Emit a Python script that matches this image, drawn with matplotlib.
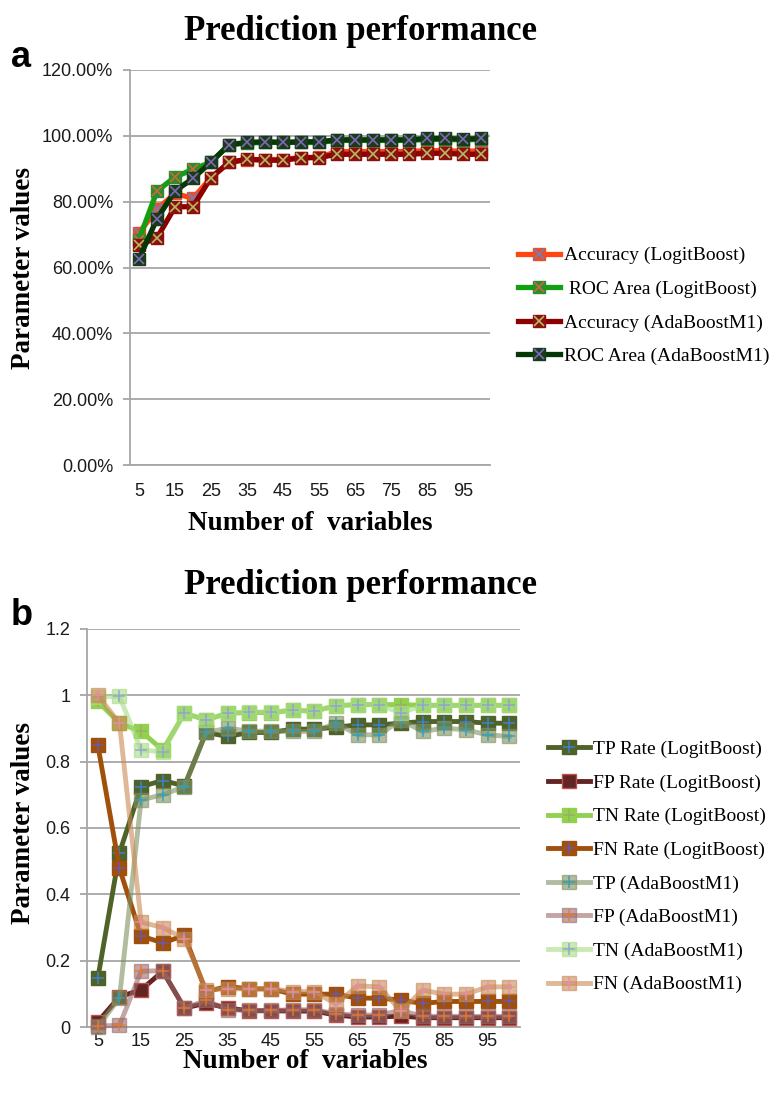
import matplotlib
matplotlib.use('Agg')
import matplotlib.pyplot as plt
from matplotlib.legend_handler import HandlerTuple
from matplotlib.ticker import MultipleLocator, FuncFormatter
from matplotlib.font_manager import FontProperties

plt.rcParams['font.family'] = ['Liberation Sans', 'DejaVu Sans']

# ---------------- data ----------------
variables = list(range(5, 101, 5))

# panel a (percent)
acc_lb = [70.5, 77.7, 82.5, 81.0, 87.3, 91.9, 92.8, 92.8, 92.8, 93.4, 93.5, 95.2, 95.2, 95.2, 95.2, 95.2, 95.5, 95.5, 95.3, 95.4]
roc_lb = [68.5, 83.2, 87.5, 89.8, 92.0, 97.3, 97.8, 98.0, 98.0, 98.0, 98.0, 98.6, 98.6, 98.6, 98.6, 98.6, 98.9, 98.9, 98.8, 98.9]
acc_ada = [66.8, 69.0, 78.4, 78.5, 87.3, 91.9, 92.9, 92.6, 92.6, 93.3, 93.4, 94.4, 94.4, 94.4, 94.4, 94.4, 94.7, 94.7, 94.4, 94.4]
roc_ada = [62.6, 74.8, 83.2, 87.1, 92.0, 97.3, 98.0, 98.2, 98.0, 98.2, 98.2, 98.8, 98.8, 98.8, 98.8, 98.8, 99.2, 99.2, 99.0, 99.2]

# panel b (rates)
tp_lb = [0.147, 0.525, 0.725, 0.743, 0.727, 0.888, 0.876, 0.888, 0.888, 0.898, 0.898, 0.904, 0.911, 0.911, 0.916, 0.921, 0.921, 0.921, 0.916, 0.916]
fp_lb = [0.016, 0.091, 0.112, 0.168, 0.057, 0.072, 0.057, 0.049, 0.049, 0.048, 0.048, 0.036, 0.030, 0.030, 0.033, 0.028, 0.028, 0.028, 0.028, 0.028]
tn_lb = [0.982, 0.916, 0.891, 0.835, 0.946, 0.926, 0.946, 0.948, 0.948, 0.955, 0.952, 0.969, 0.972, 0.972, 0.972, 0.970, 0.970, 0.970, 0.970, 0.970]
fn_lb = [0.850, 0.478, 0.274, 0.254, 0.276, 0.107, 0.122, 0.115, 0.115, 0.099, 0.099, 0.099, 0.087, 0.087, 0.081, 0.071, 0.077, 0.077, 0.077, 0.077]
tp_ada = [0.000, 0.088, 0.685, 0.700, 0.725, 0.888, 0.901, 0.892, 0.892, 0.891, 0.891, 0.916, 0.881, 0.881, 0.926, 0.891, 0.901, 0.896, 0.881, 0.876]
fp_ada = [0.003, 0.005, 0.168, 0.170, 0.057, 0.080, 0.052, 0.050, 0.050, 0.052, 0.052, 0.040, 0.036, 0.036, 0.050, 0.032, 0.032, 0.032, 0.032, 0.032]
tn_ada = [0.995, 0.997, 0.835, 0.830, 0.946, 0.926, 0.946, 0.950, 0.950, 0.955, 0.952, 0.969, 0.972, 0.972, 0.946, 0.970, 0.970, 0.970, 0.970, 0.970]
fn_ada = [1.000, 0.916, 0.316, 0.300, 0.266, 0.112, 0.115, 0.115, 0.115, 0.107, 0.107, 0.069, 0.124, 0.121, 0.048, 0.111, 0.099, 0.099, 0.121, 0.121]

labels_a = ['Accuracy (LogitBoost)', ' ROC Area (LogitBoost)', 'Accuracy (AdaBoostM1)', 'ROC Area (AdaBoostM1)']
labels_b = ['TP Rate (LogitBoost)', 'FP Rate (LogitBoost)', 'TN Rate (LogitBoost)', 'FN Rate (LogitBoost)',
            'TP (AdaBoostM1)', 'FP (AdaBoostM1)', 'TN (AdaBoostM1)', 'FN (AdaBoostM1)']

W, H = 769, 1097
fig = plt.figure(figsize=(W / 100, H / 100), dpi=100)

serif_b = FontProperties(family=['Liberation Serif', 'DejaVu Serif'], weight='bold')
serif = FontProperties(family=['Liberation Serif', 'DejaVu Serif'], size=14)
GRID = '#A6A6A6'


def style(ax, ymax, step):
    ax.set_xlim(2.5, 102.5)
    ax.set_ylim(0, ymax)
    ax.yaxis.set_major_locator(MultipleLocator(step))
    ax.grid(axis='y', color=GRID, lw=1.3)
    ax.set_axisbelow(True)
    for s in ['top', 'right']:
        ax.spines[s].set_visible(False)
    for s in ['left', 'bottom']:
        ax.spines[s].set_color(GRID)
        ax.spines[s].set_linewidth(1.3)
    ax.tick_params(axis='y', length=5, color=GRID, width=1.3, labelsize=13, pad=7, labelcolor='#1a1a1a')
    ax.tick_params(axis='x', length=0, labelsize=13, pad=13, labelcolor='#1a1a1a')
    ax.set_xticks(variables[::2])


def px(x, y):
    return x / W, 1 - y / H


# ---------------- panel a ----------------
axa = fig.add_axes([130 / W, 1 - 465 / H, 360 / W, 395 / H])
style(axa, 120, 20)
axa.yaxis.set_major_formatter(FuncFormatter(lambda v, p: f'{v:.2f}%'))

series_a = [
    (acc_lb, '#FF4512', '#E8502A', '#6F80C0'),
    (roc_lb, '#12A012', '#2E8B2E', '#C86A3A'),
    (acc_ada, '#8B0000', '#8B1010', '#B8B860'),
    (roc_ada, '#063806', '#1A3A1A', '#7A6AB8'),
]
handles_a = []
for i, (vals, lc, fc, xc) in enumerate(series_a):
    l, = axa.plot(variables, vals, color=lc, lw=3.8, marker='s', ms=8.6, mfc=fc, mec=fc,
                  zorder=3 + 2 * i, clip_on=False)
    m, = axa.plot(variables, vals, ls='none', marker='x', ms=7.5, mew=1.2, color=xc,
                  zorder=4 + 2 * i, clip_on=False)
    handles_a.append((l, m))

axa.legend(handles_a, labels_a, handler_map={tuple: HandlerTuple(ndivide=1, pad=0)},
           loc='center left', bbox_to_anchor=px(518, 306), bbox_transform=fig.transFigure,
           frameon=False, prop=serif, handlelength=2.15, handletextpad=0.2,
           labelspacing=0.82, borderpad=0, borderaxespad=0, numpoints=1)

# ---------------- panel b ----------------
axb = fig.add_axes([87 / W, 1 - 1027 / H, 433 / W, 398 / H])
style(axb, 1.2, 0.2)
axb.yaxis.set_major_formatter(FuncFormatter(lambda v, p: f'{v:g}'))
axb.tick_params(axis='x', pad=4)

series_b = [
    (tp_lb, '#4F6228', '#4F6228', '#4F6228', '#3F7FD0', 1.0),
    (fp_lb, '#632523', '#632523', '#C0504D', None, 1.0),
    (tn_lb, '#92D050', '#92D050', '#92D050', '#9BAF60', 1.0),
    (fn_lb, '#A0500A', '#A0500A', '#A0500A', '#6A5AAA', 1.0),
    (tp_ada, '#7F9060', '#7F9060', '#7F9060', '#2AA0C0', 0.6),
    (fp_ada, '#9C6A6A', '#9C6A6A', '#9C6A6A', '#E87A2A', 0.6),
    (tn_ada, '#A8DC84', '#A8DC84', '#A8DC84', '#8FA0D8', 0.6),
    (fn_ada, '#C88A55', '#C88A55', '#C88A55', '#E890A8', 0.6),
]
handles_b = []
for i, (vals, lc, fc, ec, xc, a) in enumerate(series_b):
    l, = axb.plot(variables, vals, color=lc, lw=3.5, marker='s', ms=10.5, mfc=fc, mec=ec, mew=1.0,
                  alpha=a, zorder=3 + 2 * i, clip_on=False)
    if xc is not None:
        m, = axb.plot(variables, vals, ls='none', marker='+', ms=8.6, mew=1.1, color=xc,
                      alpha=min(1.0, a + 0.3), zorder=4 + 2 * i, clip_on=False)
        handles_b.append((l, m))
    else:
        handles_b.append((l,))

axb.legend(handles_b, labels_b, handler_map={tuple: HandlerTuple(ndivide=1, pad=0)},
           loc='center left', bbox_to_anchor=px(548, 867), bbox_transform=fig.transFigure,
           frameon=False, prop=serif, handlelength=2.15, handletextpad=0.15,
           labelspacing=0.82, borderpad=0, borderaxespad=0, numpoints=1)

# ---------------- texts ----------------
for (ty, ly, xly, xlx) in [(31, 268, 523, 310), (586, 823, 1062, 305)]:
    fig.text(*px(360, ty), 'Prediction performance', ha='center', va='center',
             fontproperties=serif_b, fontsize=25)
    fig.text(*px(24, ly), 'Parameter values', ha='center', va='center', rotation=90,
             fontproperties=serif_b, fontsize=19.5)
    fig.text(*px(xlx, xly), 'Number of  variables', ha='center', va='center',
             fontproperties=serif_b, fontsize=19.5)

fig.text(*px(11, 67), 'a', ha='left', va='baseline', fontsize=26, fontweight='bold',
         family=['Liberation Sans', 'DejaVu Sans'])
fig.text(*px(11, 625), 'b', ha='left', va='baseline', fontsize=26, fontweight='bold',
         family=['Liberation Sans', 'DejaVu Sans'])

fig.savefig('out.png', dpi=100)
